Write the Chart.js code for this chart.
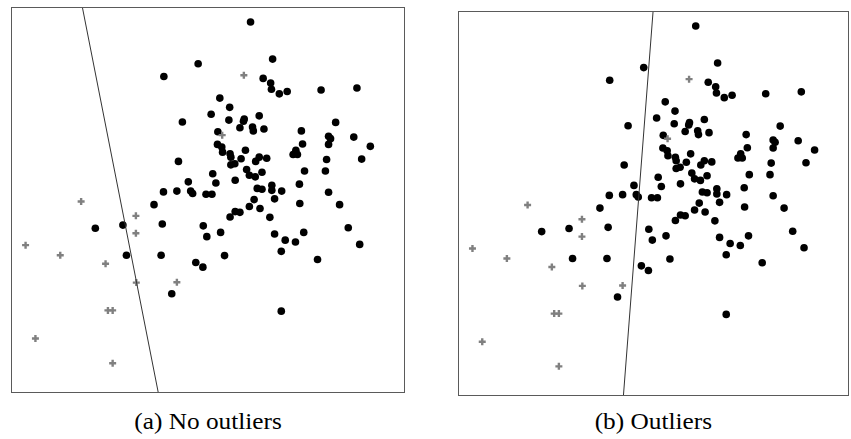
<!DOCTYPE html>
<html>
<head>
<meta charset="utf-8">
<script src="https://cdn.jsdelivr.net/npm/chart.js@4/dist/chart.umd.min.js"></script>
<style>
  body { margin: 0; background: #fff; width: 851px; height: 439px; overflow: hidden; position: relative; }
  .panel { position: absolute; }
  #panel-a { left: 11px; top: 7px; width: 394px; height: 386px; }
  #panel-b { left: 458px; top: 11px; width: 391px; height: 385px; }
  .caption {
    position: absolute; top: 410px; width: 300px; text-align: center; line-height: 23px;
    font-family: "Liberation Serif", "DejaVu Serif", serif; font-size: 23px; color: #000;
  }
  .caption span { display: inline-block; transform: scaleX(1.1); transform-origin: center; white-space: nowrap; }
  #cap-a { left: 58px; }
  #cap-b { left: 503px; }
</style>
</head>
<body>
<div class="panel" id="panel-a"><canvas id="chart-a"></canvas></div>
<div class="panel" id="panel-b"><canvas id="chart-b"></canvas></div>
<div class="caption" id="cap-a"><span>(a) No outliers</span></div>
<div class="caption" id="cap-b"><span>(b) Outliers</span></div>

<script>
// points, both axes scaled 0..100
const dotX = [
  60.8, 66.4, 47.5, 38.8, 64.0, 65.9, 66.1, 68.1, 70.1, 78.7,
  87.8, 53.0, 55.5, 50.8, 43.5, 55.3, 59.2, 59.0, 63.0, 58.1,
  61.3, 61.5, 64.2, 82.4, 73.7, 52.5, 80.6, 81.1, 87.0, 74.0,
  80.6, 91.2, 52.4, 53.5, 53.7, 55.6, 59.5, 55.8, 72.3, 71.6,
  72.7, 63.0, 64.9, 58.4, 62.1, 80.1, 89.0, 55.8, 56.8, 59.8,
  60.5, 62.0, 63.7, 74.5, 79.8, 51.2, 52.0, 56.9, 73.2, 66.2,
  62.5, 63.7, 66.2, 68.7, 80.6, 49.5, 51.0, 42.5, 45.0, 38.7,
  42.1, 45.6, 46.1, 66.9, 61.7, 73.3, 83.4, 60.5, 63.2, 56.9,
  58.1, 55.6, 65.7, 48.8, 53.2, 49.7, 66.9, 74.3, 85.6, 69.6,
  72.2, 88.5, 68.6, 54.2, 77.8, 48.7, 68.6, 36.3, 21.4, 28.4,
  38.4, 29.3, 38.1, 46.9, 40.8
];
const dotY = [
  96.1, 86.5, 85.3, 82.0, 81.5, 80.3, 78.7, 77.5, 78.1, 78.5,
  79.0, 76.4, 74.0, 72.2, 70.2, 70.7, 71.0, 70.4, 71.8, 68.7,
  68.9, 67.9, 68.4, 70.1, 67.9, 67.7, 66.5, 65.9, 66.3, 64.5,
  64.4, 63.9, 64.4, 63.7, 62.4, 62.0, 62.9, 61.1, 62.9, 61.8,
  61.8, 61.1, 60.8, 60.7, 60.0, 60.5, 60.6, 59.1, 59.4, 57.9,
  56.4, 56.0, 57.2, 57.5, 57.5, 56.8, 54.4, 55.1, 54.1, 53.8,
  53.0, 52.8, 52.5, 52.3, 52.0, 51.5, 51.5, 60.0, 54.7, 52.1,
  52.3, 52.3, 51.7, 50.3, 50.1, 49.1, 48.8, 48.3, 47.8, 47.0,
  46.8, 45.6, 45.5, 43.3, 41.6, 40.5, 41.2, 41.6, 42.8, 39.6,
  39.1, 38.5, 36.7, 35.6, 34.6, 32.6, 21.2, 48.8, 42.7, 43.5,
  43.8, 35.7, 35.7, 33.8, 25.7
];
const crossX = [59.1, 53.6, 17.8, 31.7, 31.7, 3.7, 12.5, 24.0, 31.8, 42.1, 24.6, 25.8, 6.2, 25.8];
const crossY = [82.3, 66.8, 49.6, 45.9, 41.4, 38.3, 35.7, 33.5, 28.6, 28.7, 21.4, 21.4, 14.1, 7.7];

// separating lines: [top, bottom] ends
const lineAX = [18.1, 37.4];
const lineBX = [49.9, 42.3];
const lineY = [100, 0];

const toPoints = (xs, ys) => xs.map((x, i) => ({ x: x, y: ys[i] }));

const framePlugin = {
  id: "frame",
  afterDraw(chart) {
    const a = chart.chartArea;
    const ctx = chart.ctx;
    ctx.save();
    ctx.strokeStyle = "#5a5a5a";
    ctx.lineWidth = 1;
    ctx.strokeRect(a.left + 0.5, a.top + 0.5, a.right - a.left - 1, a.bottom - a.top - 1);
    ctx.restore();
  }
};

function makeChart(id, lineX) {
  new Chart(document.getElementById(id), {
    type: "scatter",
    data: {
      datasets: [
        {
          type: "line",
          data: toPoints(lineX, lineY),
          borderColor: "#333",
          borderWidth: 1,
          pointRadius: 0,
          fill: false
        },
        {
          data: toPoints(crossX, crossY),
          pointStyle: "cross",
          pointRadius: 3.5,
          borderWidth: 2.4,
          borderColor: "#808080",
          backgroundColor: "#808080"
        },
        {
          data: toPoints(dotX, dotY),
          pointStyle: "circle",
          pointRadius: 3.8,
          borderWidth: 0,
          backgroundColor: "#000"
        }
      ]
    },
    options: {
      responsive: true,
      maintainAspectRatio: false,
      animation: false,
      layout: { padding: 0, autoPadding: false },
      plugins: { legend: { display: false }, tooltip: { enabled: false } },
      scales: {
        x: { type: "linear", min: 0, max: 100, display: false },
        y: { type: "linear", min: 0, max: 100, display: false }
      }
    },
    plugins: [framePlugin]
  });
}

makeChart("chart-a", lineAX);
makeChart("chart-b", lineBX);
</script>
</body>
</html>
